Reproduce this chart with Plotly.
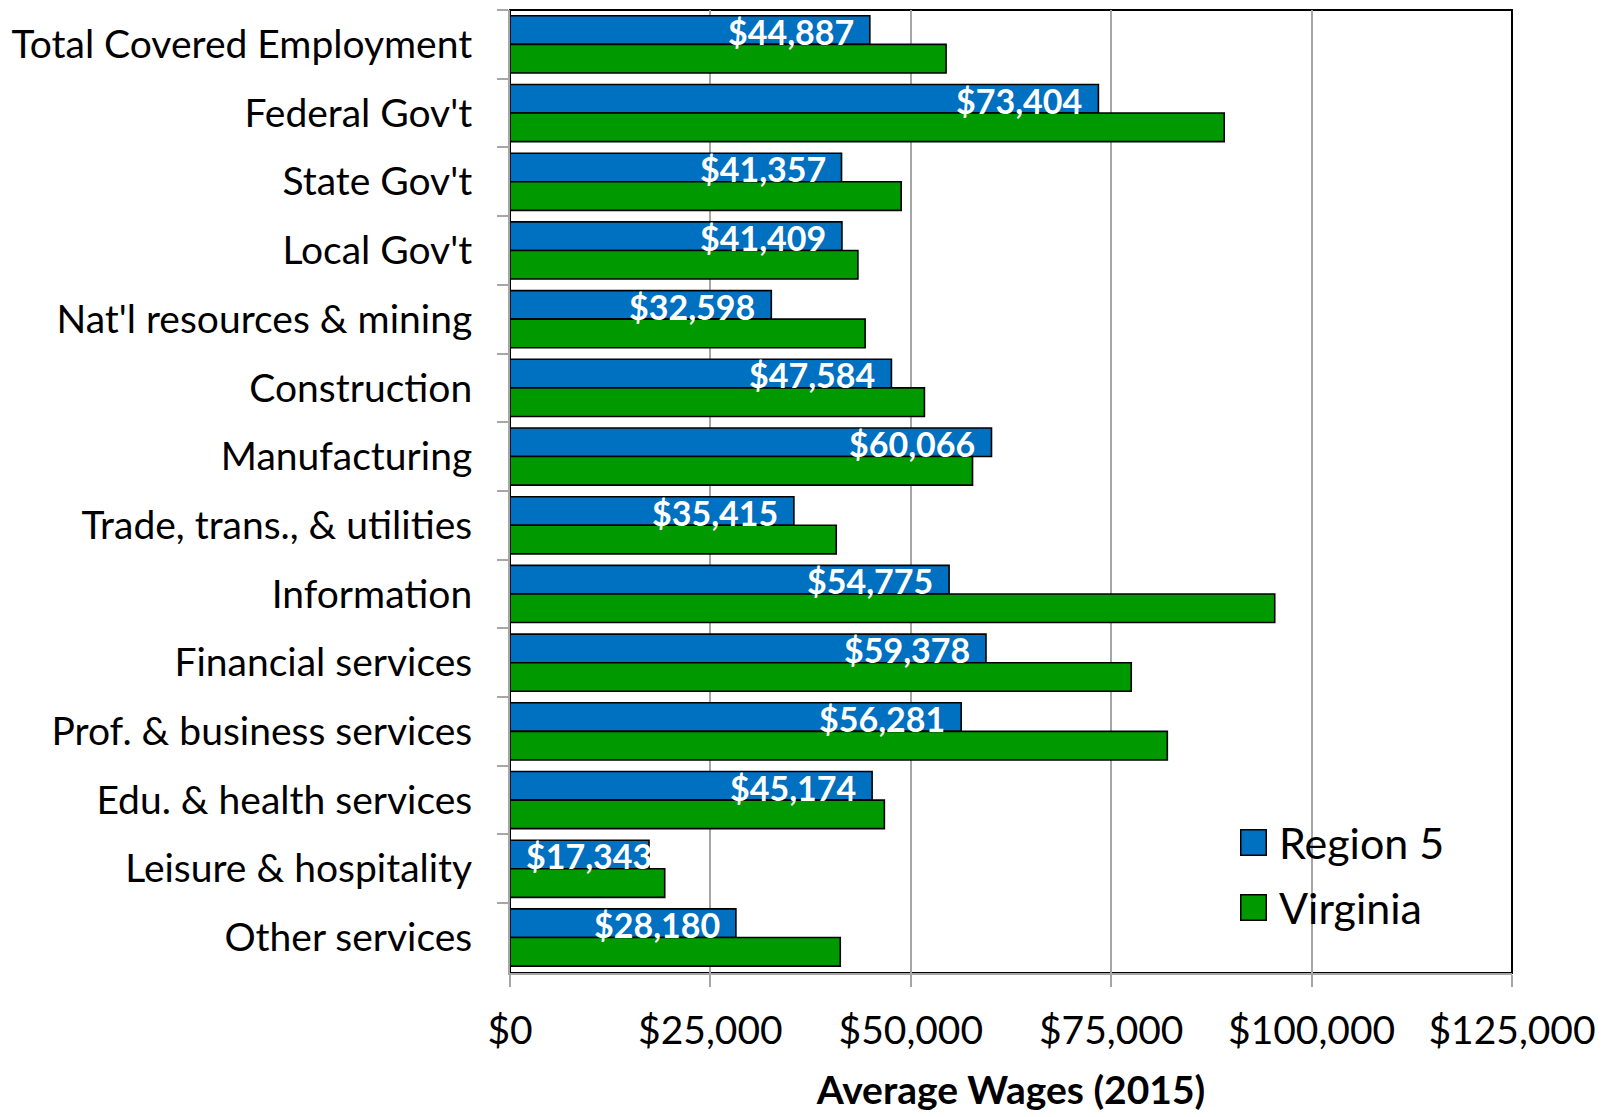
import plotly.graph_objects as go

categories = [
    "Total Covered Employment", "Federal Gov't", "State Gov't", "Local Gov't",
    "Nat'l resources & mining", "Construction", "Manufacturing",
    "Trade, trans., & utilities", "Information", "Financial services",
    "Prof. & business services", "Edu. & health services",
    "Leisure & hospitality", "Other services",
]
region5 = [44887, 73404, 41357, 41409, 32598, 47584, 60066, 35415, 54775,
           59378, 56281, 45174, 17343, 28180]
virginia = [54400, 89100, 48800, 43400, 44300, 51700, 57700, 40700, 95400,
            77500, 82000, 46700, 19300, 41200]
x_ticks = [0, 25000, 50000, 75000, 100000, 125000]
x_tick_labels = ["$0", "$25,000", "$50,000", "$75,000", "$100,000", "$125,000"]
series_names = ["Region 5", "Virginia"]

BLUE = "#0070C0"
GREEN = "#009900"
GRID = "#a6a6a6"
FONT = "Lato"
colors = [BLUE, GREEN]

X_MAX = 125000
MARGIN_L, MARGIN_R = 502, 100
PLOT_W = 1604 - MARGIN_L - MARGIN_R
LABEL_W = 125   # approximate rendered width of a value label, px
PAD = 14

fig = go.Figure()
for name, vals, col in zip(series_names, [region5, virginia], colors):
    fig.add_trace(go.Bar(
        y=categories, x=vals, name=name, orientation="h", showlegend=False,
        marker=dict(color=col, line=dict(color="black", width=1.6)),
    ))

for cat, val in zip(categories, region5):
    fits = val / X_MAX * PLOT_W >= LABEL_W + 2 * PAD
    fig.add_annotation(
        x=val if fits else 0, y=cat, text=f"${val:,}", showarrow=False,
        xanchor="right" if fits else "left", yanchor="middle",
        xshift=-PAD if fits else PAD, yshift=13,
        font=dict(family=FONT, size=34, color="white", weight="bold"),
    )

# plot frame (top/right black)
fig.add_shape(type="rect", xref="paper", yref="paper", x0=0, x1=1, y0=0, y1=1,
              line=dict(color="black", width=2), layer="between")

# legend box (white background hiding gridline)
fig.add_shape(type="rect", xref="paper", yref="paper", x0=0.714, x1=0.95,
              y0=0.033, y1=0.172, fillcolor="white", line=dict(width=0),
              layer="between")
legend_y = [0.136, 0.068]
for name, col, ly in zip(series_names, colors, legend_y):
    fig.add_annotation(
        xref="paper", yref="paper", x=0.7425, y=ly, text=" ", showarrow=False,
        width=24, height=24, bgcolor=col, bordercolor="black", borderwidth=1.5,
        borderpad=0, xanchor="center", yanchor="middle",
    )
    fig.add_annotation(
        xref="paper", yref="paper", x=0.765, y=ly, text=name, showarrow=False,
        xanchor="left", yanchor="middle",
        font=dict(family=FONT, size=43, color="black"),
    )

fig.update_layout(
    width=1604, height=1117,
    margin=dict(l=MARGIN_L, r=MARGIN_R, t=2, b=152),
    barmode="group", bargap=0.168, bargroupgap=0,
    plot_bgcolor="white", paper_bgcolor="white",
    font=dict(family=FONT, size=39, color="black"),
    showlegend=False,
    xaxis=dict(
        range=[0, X_MAX], tickvals=x_ticks, ticktext=x_tick_labels,
        showgrid=True, gridcolor=GRID, gridwidth=2,
        showline=True, linecolor=GRID, linewidth=2,
        ticks="outside", ticklen=12, tickcolor=GRID, tickwidth=2,
        zeroline=False, ticklabelstandoff=10, automargin=False,
        tickfont=dict(family=FONT, size=39, color="black"),
        title=dict(text="<b>Average Wages (2015)</b>", standoff=26,
                   font=dict(family=FONT, size=39, color="black")),
    ),
    yaxis=dict(
        autorange="reversed", showline=True, linecolor=GRID, linewidth=2,
        ticks="outside", tickson="boundaries", ticklen=11, tickcolor=GRID,
        tickwidth=2, showgrid=False, ticklabelstandoff=28, automargin=False,
        tickfont=dict(family=FONT, size=39, color="black"),
    ),
)

fig.write_html("out.html")
